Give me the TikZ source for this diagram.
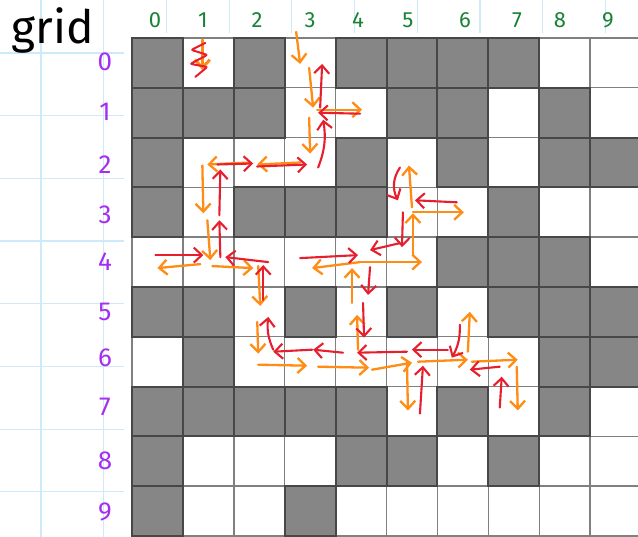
\documentclass[tikz,border=0pt]{standalone}
\usepackage{fontspec}
\setmainfont{Fira Sans}
\usepackage{tikz}
\usetikzlibrary{arrows.meta, calc}

\definecolor{inkorange}{RGB}{255,140,20}
\definecolor{inkred}{RGB}{230,30,45}
\definecolor{inkgreen}{RGB}{25,130,55}
\definecolor{inkpurple}{RGB}{165,45,240}
\definecolor{paperline}{RGB}{205,233,250}
\definecolor{wallgray}{RGB}{134,134,134}

% one stroke from near one cell centre to near another
\newcommand{\mazehop}[5]{\draw[#1] ($(#2)+(#3)$) to ($(#4)+(#5)$);}

\begin{document}
\begin{tikzpicture}[
  x=1pt, y=-1pt,
  cell/.style={draw=black!50, line width=1.4pt, fill=white, minimum width=50.9pt,
               minimum height=49.8pt, inner sep=0pt, outer sep=0pt},
  wall/.style={cell, draw=black!72, line width=2pt, fill=wallgray},
  collab/.style={text=inkgreen, font=\fontsize{22}{22}\selectfont},
  rowlab/.style={text=inkpurple, font=\fontsize{26}{26}\selectfont},
  oarr/.style={draw=inkorange, line width=2.3pt, line cap=round, line join=round,
               -{Straight Barb[length=8pt,width=15pt]}},
  rarr/.style={oarr, draw=inkred, line width=2.1pt},
]
\useasboundingbox (0,0) rectangle (638,537);
\clip (0,0) rectangle (638,537);

% Paper
\fill[white] (0,0) rectangle (638,537);
\foreach \k in {0,...,9}
  \draw[paperline, line width=1.2pt] ({41+62.7*\k},0) -- ({41+62.7*\k},537);
\foreach \k in {0,...,7}
  \draw[paperline, line width=1.2pt] (0,{53+62.7*\k}) -- (638,{53+62.7*\k});
\fill[white] (124,33) rectangle (638,537);

% Title
\node[anchor=base west, font=\fontsize{46}{46}\selectfont] (title) at (8,44) {grid};

% Cells
\foreach \r in {0,...,9}
  \foreach \c in {0,...,9}
    \node[cell] (c-\r-\c) at ({132+50.9*(\c+0.5)},{38+49.8*(\r+0.5)}) {};

% Walls
\foreach \r/\cols in {0/{0,2,4,5,6,7}, 1/{0,1,2,5,6,8}, 2/{0,4,6,8,9}, 3/{0,2,3,4,7},
                      4/{6,7,8}, 5/{0,1,3,5,7,8,9}, 6/{1,8,9}, 7/{0,1,2,3,4,6,8},
                      8/{0,4,5,7}, 9/{0,3}}
  \foreach \c in \cols
    \node[wall] (w-\r-\c) at (c-\r-\c) {};

% Column numbers
\foreach \c/\x in {0/155,1/203,2/257,3/310,4/358,5/408,6/465,7/517,8/560,9/608}
  \node[collab] (col-\c) at (\x,20) {\c};

% Row numbers
\foreach \r/\y in {0/62,1/112,2/165,3/215,4/262,5/312,6/358,7/407,8/461,9/512}
  \node[rowlab] (row-\r) at (105,\y) {\r};

% First start, scribbled out
\mazehop{oarr, line width=3pt}{c-0-1}{-6,-23}{c-0-1}{-6,7}
\draw[inkred, line width=2pt, line cap=round, rounded corners=2pt]
  ($(c-0-1)+(-13,14)$) -- ($(c-0-1)+(-1,4)$) -- ($(c-0-1)+(-18,1)$)
  -- ($(c-0-1)+(-1,-8)$) -- ($(c-0-1)+(-17,-13)$) -- ($(c-0-1)+(-3,-20)$);

% Orange: search steps
\mazehop{oarr}{c-0-3}{-14,-31}{c-0-3}{-10,1}
\mazehop{oarr}{c-0-3}{-1,5}{c-1-3}{3,-5}
\mazehop{oarr}{c-1-3}{7,-3}{c-1-4}{1,-3}
\mazehop{oarr}{c-1-3}{-1,5}{c-2-3}{0,-9}
\mazehop{oarr}{c-2-3}{-10,0}{c-2-2}{-2,2}
\mazehop{oarr}{c-2-2}{-9,0}{c-2-1}{-1,2}
\mazehop{oarr}{c-2-1}{-6,3}{c-3-1}{-5,1}
\mazehop{oarr}{c-3-1}{-1,8}{c-4-1}{2,-2}
\mazehop{oarr}{c-4-1}{-8,2}{c-4-0}{0,6}
\mazehop{oarr}{c-4-1}{4,4}{c-4-2}{-6,6}
\mazehop{oarr}{c-4-2}{-1,4}{c-5-2}{1,-6}
\mazehop{oarr}{c-5-2}{-2,10}{c-6-2}{-1,-8}
\mazehop{oarr}{c-6-2}{-1,3}{c-6-3}{-3,4}
\mazehop{oarr}{c-6-3}{8,5}{c-6-4}{8,6}
\mazehop{oarr}{c-6-4}{-3,-12}{c-5-4}{-4,3}
\mazehop{oarr}{c-5-4}{-9,-9}{c-4-4}{-9,6}
\mazehop{oarr}{c-4-4}{-1,0}{c-4-3}{2,6}
\mazehop{oarr}{c-4-4}{-1,0}{c-4-5}{10,0}
\mazehop{oarr}{c-4-5}{1,-7}{c-3-5}{1,1}
\mazehop{oarr}{c-3-5}{0,-5}{c-2-5}{-3,3}
\mazehop{oarr}{c-3-5}{1,0}{c-3-6}{1,0}
\mazehop{oarr}{c-6-4}{11,8}{c-6-5}{0,1}
\mazehop{oarr}{c-6-5}{6,0}{c-6-6}{5,-2}
\mazehop{oarr}{c-6-6}{9,0}{c-6-7}{4,-2}
\mazehop{oarr}{c-6-6}{5,-10}{c-5-6}{7,0}
\mazehop{oarr}{c-6-7}{3,5}{c-7-7}{4,-1}
\mazehop{oarr}{c-6-5}{-5,0}{c-7-5}{-4,-1}

% Red: back pointers
\mazehop{rarr}{c-1-3}{10,-5}{c-0-3}{12,1}
\mazehop{rarr}{c-1-4}{-1,1}{c-1-3}{8,0}
\mazehop{rarr, bend right=15}{c-2-3}{8,5}{c-1-3}{13,7}
\mazehop{rarr}{c-2-1}{9,2}{c-2-2}{-6,1}
\mazehop{rarr}{c-2-2}{-2,4}{c-2-3}{-3,2}
\mazehop{rarr}{c-3-1}{11,3}{c-2-1}{12,7}
\mazehop{rarr}{c-4-1}{12,-5}{c-3-1}{11,8}
\mazehop{rarr}{c-4-0}{-2,-7}{c-4-1}{-5,-7}
\mazehop{rarr}{c-4-2}{9,0}{c-4-1}{17,-5}
\mazehop{rarr}{c-5-2}{4,-12}{c-4-2}{4,3}
\mazehop{rarr, bend left=15}{c-6-2}{14,-12}{c-5-2}{9,5}
\mazehop{rarr}{c-6-3}{2,-12}{c-6-2}{14,-10}
\mazehop{rarr}{c-6-4}{-18,-9}{c-6-3}{3,-12}
\mazehop{rarr}{c-6-5}{-5,-10}{c-6-4}{-4,-9}
\mazehop{rarr}{c-5-4}{2,-9}{c-6-4}{3,-24}
\mazehop{rarr}{c-4-4}{9,5}{c-5-4}{7,-17}
\mazehop{rarr}{c-4-3}{-10,-4}{c-4-4}{-3,-7}
\mazehop{rarr}{c-4-5}{-12,-19}{c-4-4}{9,-12}
\mazehop{rarr}{c-3-5}{-9,0}{c-4-5}{-10,-15}
\mazehop{rarr, bend right=30}{c-2-5}{-12,5}{c-3-5}{-14,-12}
\mazehop{rarr}{c-3-6}{-6,-10}{c-3-5}{3,-12}
\mazehop{rarr}{c-6-6}{-15,-12}{c-6-5}{0,-12}
\mazehop{rarr, bend left=15}{c-5-6}{-3,13}{c-6-6}{-11,-4}
\mazehop{rarr}{c-7-5}{8,2}{c-6-5}{11,4}
\mazehop{rarr}{c-6-7}{-14,5}{c-6-6}{7,8}
\mazehop{rarr}{c-7-7}{-14,-4}{c-6-7}{-12,15}

\end{tikzpicture}
\end{document}
